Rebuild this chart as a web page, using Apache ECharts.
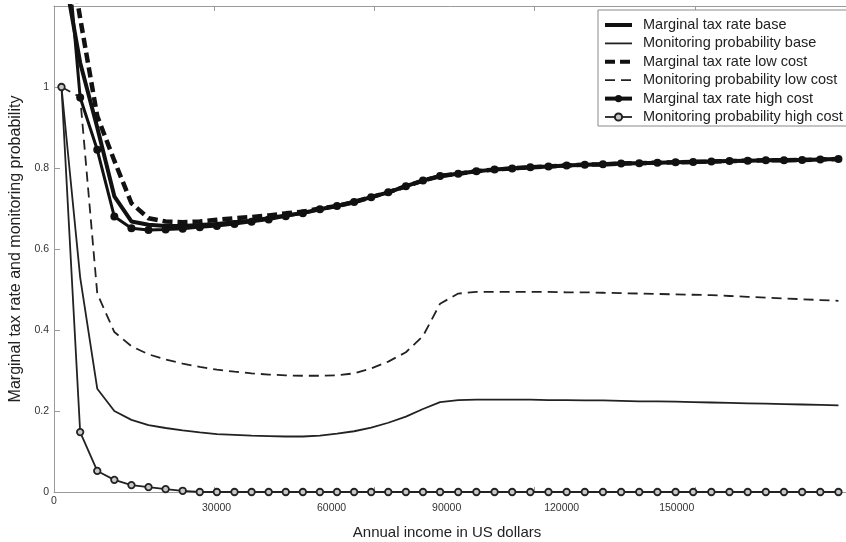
<!DOCTYPE html>
<html>
<head>
<meta charset="utf-8">
<script src="https://cdn.jsdelivr.net/npm/echarts@6/dist/echarts.min.js"></script>
<style>
  html, body { margin: 0; padding: 0; background: #fff; }
  #chart { width: 846px; height: 542px; }
</style>
</head>
<body>
<div id="chart"></div>
<script>
// income grid (US dollars), one point per model grid node
var income = [1400, 4900, 8100, 11300, 14500, 17700, 20900, 24100, 27300, 30500,
  33800, 37000, 40200, 43400, 46600, 49800, 53000, 56200, 59400, 62600,
  65900, 69100, 72300, 75700, 79100, 82500, 85800, 89200, 92600, 96000,
  99400, 102800, 106200, 109600, 113000, 116400, 119700, 123100, 126500, 129900,
  133300, 136700, 140100, 143500, 146900];

var mtrBase = [1.32, 1.06, 0.90, 0.73, 0.668, 0.660, 0.657, 0.657, 0.659, 0.662,
  0.666, 0.670, 0.676, 0.683, 0.689, 0.698, 0.706, 0.716, 0.728, 0.740,
  0.755, 0.769, 0.780, 0.786, 0.792, 0.796, 0.799, 0.802, 0.804, 0.806,
  0.808, 0.809, 0.811, 0.812, 0.813, 0.814, 0.815, 0.816, 0.817, 0.818,
  0.819, 0.819, 0.820, 0.821, 0.822];

var monBase = [1.0, 0.53, 0.255, 0.200, 0.178, 0.165, 0.158, 0.152, 0.147, 0.143,
  0.141, 0.139, 0.138, 0.137, 0.137, 0.139, 0.144, 0.150, 0.159, 0.171,
  0.186, 0.205, 0.222, 0.227, 0.228, 0.228, 0.228, 0.228, 0.227, 0.227,
  0.226, 0.226, 0.225, 0.224, 0.224, 0.223, 0.222, 0.221, 0.220, 0.219,
  0.218, 0.217, 0.216, 0.215, 0.214];

var mtrLow = [1.45, 1.17, 0.928, 0.818, 0.713, 0.676, 0.668, 0.666, 0.668, 0.672,
  0.676, 0.679, 0.683, 0.688, 0.692, 0.700, 0.706, 0.716, 0.728, 0.740,
  0.755, 0.769, 0.780, 0.786, 0.792, 0.796, 0.799, 0.802, 0.804, 0.806,
  0.808, 0.809, 0.811, 0.812, 0.813, 0.814, 0.815, 0.816, 0.817, 0.818,
  0.819, 0.819, 0.820, 0.821, 0.822];

var monLow = [1.0, 0.975, 0.49, 0.395, 0.36, 0.34, 0.327, 0.317, 0.309, 0.302,
  0.297, 0.293, 0.290, 0.288, 0.287, 0.287, 0.288, 0.293, 0.305, 0.322,
  0.345, 0.385, 0.465, 0.490, 0.494, 0.494, 0.494, 0.494, 0.494, 0.493,
  0.493, 0.492, 0.491, 0.490, 0.489, 0.488, 0.487, 0.486, 0.484, 0.482,
  0.480, 0.478, 0.476, 0.474, 0.472];

var mtrHigh = [1.5, 0.974, 0.845, 0.680, 0.651, 0.647, 0.648, 0.650, 0.654, 0.657,
  0.662, 0.667, 0.673, 0.681, 0.688, 0.698, 0.706, 0.716, 0.728, 0.740,
  0.755, 0.769, 0.780, 0.786, 0.792, 0.796, 0.799, 0.802, 0.804, 0.806,
  0.808, 0.809, 0.811, 0.812, 0.813, 0.814, 0.815, 0.816, 0.817, 0.818,
  0.819, 0.819, 0.820, 0.821, 0.822];

var monHigh = [1.0, 0.148, 0.052, 0.030, 0.017, 0.012, 0.007, 0.003, 0, 0,
  0, 0, 0, 0, 0, 0, 0, 0, 0, 0,
  0, 0, 0, 0, 0, 0, 0, 0, 0, 0,
  0, 0, 0, 0, 0, 0, 0, 0, 0, 0,
  0, 0, 0, 0, 0];

// tick labels as printed under the axis (they sit off the tick marks in the original)
var xLabels = [30000, 60000, 90000, 120000, 150000];

var names = [
  'Marginal tax rate base',
  'Monitoring probability base',
  'Marginal tax rate low cost',
  'Monitoring probability low cost',
  'Marginal tax rate high cost',
  'Monitoring probability high cost'
];

function pairs(ys) {
  return income.map(function (x, i) { return [x, ys[i]]; });
}

var font = "'Liberation Sans', Arial, Helvetica, sans-serif";
var axisGray = '#9a9a9a';
var ink = '#111';

var chart = echarts.init(document.getElementById('chart'), null, { renderer: 'canvas' });

var option = {
  backgroundColor: '#fff',
  animation: false,
  textStyle: { fontFamily: font },
  // plot box runs a little past the right edge of the picture
  grid: { left: 54, top: 6, width: 801, height: 486, containLabel: false, outerBoundsMode: 'none' },
  legend: {
    orient: 'vertical',
    left: 598,
    top: 10,
    padding: [6, 14, 0, 5],
    itemGap: 0.4,
    itemWidth: 27,
    itemHeight: 9,
    selectedMode: false,
    backgroundColor: '#fff',
    borderColor: '#8a8a8a',
    borderWidth: 1,
    borderRadius: 0,
    textStyle: { fontFamily: font, fontSize: 14.5, color: '#222', lineHeight: 18, padding: [0, 0, 0, 6] },
    data: [
      { name: names[0], itemStyle: { opacity: 0 }, lineStyle: { width: 4 } },
      { name: names[1], itemStyle: { opacity: 0 }, lineStyle: { width: 1.8 } },
      { name: names[2], itemStyle: { opacity: 0 }, lineStyle: { width: 4 } },
      { name: names[3], itemStyle: { opacity: 0 }, lineStyle: { width: 1.8 } },
      { name: names[4], lineStyle: { width: 4 } },
      { name: names[5], lineStyle: { width: 1.8 } }
    ]
  },
  xAxis: [
    {
      type: 'value', position: 'bottom',
      min: 0, max: 150000, interval: 30000,
      axisLine: { lineStyle: { color: axisGray, width: 1 } },
      axisTick: { inside: true, length: 5, lineStyle: { color: axisGray } },
      axisLabel: {
        margin: 4, fontSize: 10.5, color: '#333', fontFamily: font,
        formatter: function (v) { return v === 0 ? '0' : ''; }
      },
      splitLine: { show: false }
    },
    {
      type: 'value', position: 'bottom',
      min: -12400, max: 196500,
      axisLine: { show: false },
      axisTick: { show: false },
      splitLine: { show: false },
      axisLabel: {
        customValues: xLabels, margin: 11, fontSize: 10.5, color: '#333', fontFamily: font,
        formatter: function (v) { return String(v); }
      },
      name: 'Annual income in US dollars',
      nameLocation: 'middle',
      nameGap: 33,
      nameTextStyle: { fontSize: 15, color: '#222', fontFamily: font, padding: [0, 15, 0, 0] }
    },
    {
      type: 'value', position: 'top',
      min: 0, max: 150000, interval: 30000,
      axisLine: { lineStyle: { color: axisGray, width: 1 } },
      axisTick: { inside: true, length: 5, lineStyle: { color: axisGray } },
      axisLabel: { show: false },
      splitLine: { show: false }
    }
  ],
  yAxis: [
    {
      type: 'value', position: 'left',
      min: 0, max: 1.2, interval: 0.2,
      axisLine: { show: true, lineStyle: { color: axisGray, width: 1 } },
      axisTick: { show: true, inside: true, length: 6, lineStyle: { color: axisGray } },
      axisLabel: { margin: 5, fontSize: 10.5, color: '#333', fontFamily: font, showMaxLabel: false },
      splitLine: { show: false },
      name: 'Marginal tax rate and monitoring probability',
      nameLocation: 'middle',
      nameGap: 28,
      nameTextStyle: { fontSize: 16, color: '#222', fontFamily: font }
    }
  ],
  series: [
    {
      name: names[0], type: 'line', data: pairs(mtrBase), symbol: 'none', clip: true,
      lineStyle: { color: ink, width: 4 }, itemStyle: { color: ink }
    },
    {
      name: names[1], type: 'line', data: pairs(monBase), symbol: 'none', clip: true,
      lineStyle: { color: '#222', width: 1.8 }, itemStyle: { color: '#222' }
    },
    {
      name: names[2], type: 'line', data: pairs(mtrLow), symbol: 'none', clip: true,
      lineStyle: { color: ink, width: 4.5, type: [10, 5] }, itemStyle: { color: ink }
    },
    {
      name: names[3], type: 'line', data: pairs(monLow), symbol: 'none', clip: true,
      lineStyle: { color: '#222', width: 1.8, type: [10, 6] }, itemStyle: { color: '#222' }
    },
    {
      name: names[4], type: 'line', data: pairs(mtrHigh), symbol: 'circle', symbolSize: 8, clip: true,
      lineStyle: { color: ink, width: 3 }, itemStyle: { color: ink }
    },
    {
      name: names[5], type: 'line', data: pairs(monHigh), symbol: 'circle', symbolSize: 6.5, clip: true,
      lineStyle: { color: '#222', width: 1.8 },
      itemStyle: { color: '#c8c8c8', borderColor: '#222', borderWidth: 1.8 }
    }
  ]
};

chart.setOption(option);
</script>
</body>
</html>
